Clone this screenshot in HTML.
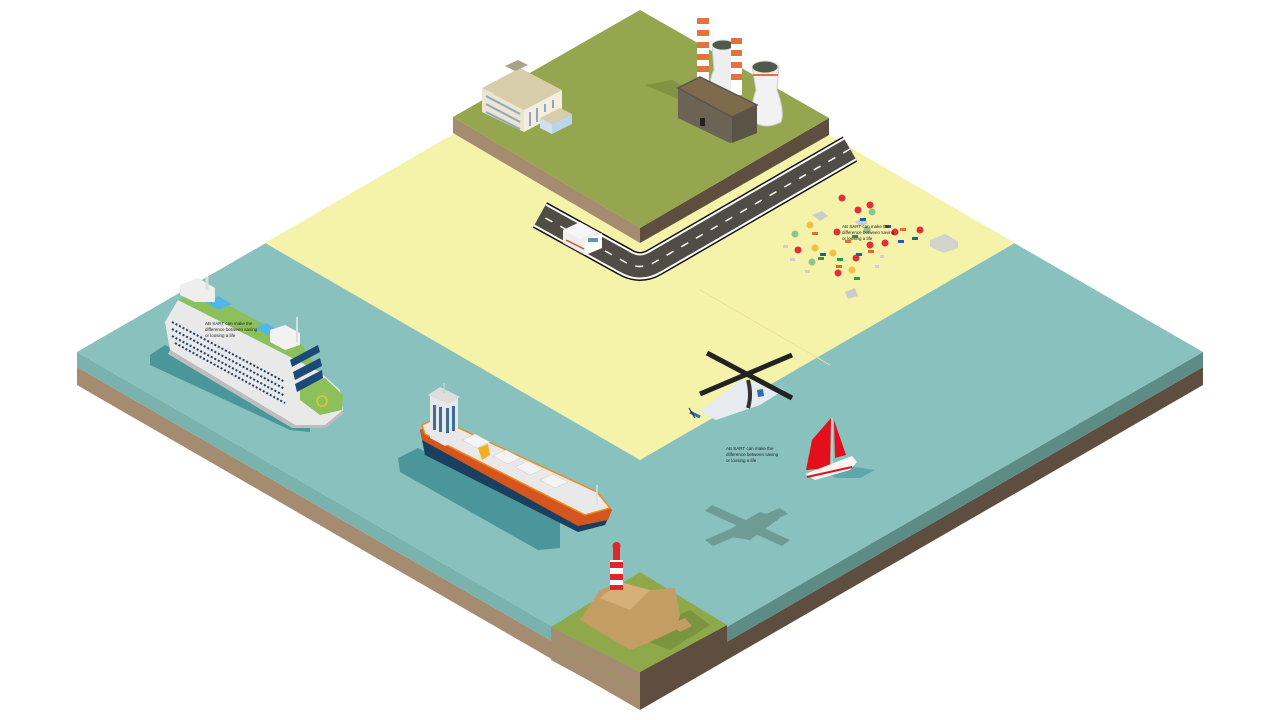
<!DOCTYPE html>
<html><head><meta charset="utf-8"><style>
html,body{margin:0;padding:0;background:#fff;width:1280px;height:720px;overflow:hidden}
svg{display:block}
text{font-family:"Liberation Sans",sans-serif;font-size:4.5px;fill:#222}
</style></head><body>
<svg width="1280" height="720" viewBox="0 0 1280 720" xmlns="http://www.w3.org/2000/svg">
<polygon points="77,367 640,692 640,710 77,385" fill="#a58b6f"/>
<polygon points="1203,367 640,692 640,710 1203,385" fill="#5e4e3f"/>
<polygon points="77,352 640,677 640,692 77,367" fill="#7ab3ae"/>
<polygon points="1203,352 640,677 640,692 1203,367" fill="#5d8c86"/>
<polygon points="77,352 640,27 1203,352 640,677" fill="#89c1bf"/>
<polygon points="265,243 640,26 1015,243 640,460" fill="#f5f2aa"/>
<line x1="700" y1="290" x2="830" y2="365" stroke="#e8e39c" stroke-width="1"/>

<polygon points="453,117 640,228 640,243 453,133" fill="#a58b6f"/>
<polygon points="829,118 640,228 640,243 829,135" fill="#5e4e3f"/>
<polygon points="640,10 829,118 640,228 453,117" fill="#95a64f"/>

<path d="M850,149 L655,262 Q640,271 625,262 L540,215" fill="none" stroke="#111" stroke-width="29" stroke-linejoin="round"/>
<path d="M850,149 L655,262 Q640,271 625,262 L540,215" fill="none" stroke="#fff" stroke-width="26" stroke-linejoin="round"/>
<path d="M850,149 L655,262 Q640,271 625,262 L540,215" fill="none" stroke="#524c46" stroke-width="22" stroke-linejoin="round"/>
<path d="M850,149 L655,262 Q640,271 625,262 L540,215" fill="none" stroke="#fff" stroke-width="1.5" stroke-dasharray="8,9"/>

<!-- ambulance -->
<polygon points="563,230 580,222 602,234 602,248 585,255 563,243" fill="#eee"/>
<polygon points="585,241 602,233 602,248 585,255" fill="#fff"/>
<polygon points="563,230 580,222 596,231 580,239" fill="#f6f6f6"/>
<rect x="588" y="238" width="10" height="4" fill="#5b98b5"/>
<line x1="566" y1="240" x2="584" y2="249" stroke="#e04a2a" stroke-width="1.5"/>

<!-- hospital -->
<polygon points="482,88 520,68 562,90 524,110" fill="#d8cdaa"/>
<polygon points="482,88 524,110 524,132 482,112" fill="#ece5cf"/>
<polygon points="524,110 562,90 562,112 524,132" fill="#f3eedd"/>
<polygon points="540,118 560,108 572,114 552,124" fill="#d8cdaa"/>
<polygon points="540,118 552,124 552,134 540,128" fill="#cfe0ee"/>
<polygon points="552,124 572,114 572,124 552,134" fill="#bcd4ea"/>
<polygon points="505,66 518,60 528,65 515,71" fill="#aaa38a"/>
<g stroke="#8fa7c4" stroke-width="2">
<line x1="486" y1="96" x2="520" y2="114"/><line x1="486" y1="104" x2="520" y2="122"/><line x1="486" y1="112" x2="520" y2="129"/>
<line x1="530" y1="112" x2="530" y2="126"/><line x1="537" y1="108" x2="537" y2="122"/><line x1="545" y1="104" x2="545" y2="112"/><line x1="553" y1="100" x2="553" y2="108"/>
</g>

<!-- power plant -->
<polygon points="645,85 680,100 700,95 672,80" fill="#7a8a3f" opacity="0.7"/>
<rect x="697" y="15" width="12" height="70" fill="#fff"/>
<g fill="#e8703a"><rect x="697" y="18" width="12" height="6"/><rect x="697" y="30" width="12" height="6"/><rect x="697" y="42" width="12" height="6"/><rect x="697" y="54" width="12" height="6"/><rect x="697" y="66" width="12" height="6"/></g>
<path d="M712,45 Q722,38 734,45 L732,70 Q738,90 735,95 L712,95 Q708,80 714,70 Z" fill="#eee" stroke="#ccc"/>
<ellipse cx="723" cy="45" rx="11" ry="5" fill="#4f5a4a" stroke="#ddd"/>
<rect x="731" y="35" width="11" height="60" fill="#fff"/>
<g fill="#e8703a"><rect x="731" y="38" width="11" height="6"/><rect x="731" y="50" width="11" height="6"/><rect x="731" y="62" width="11" height="6"/><rect x="731" y="74" width="11" height="6"/></g>
<path d="M752,66 Q765,58 779,66 L777,90 Q785,112 781,122 Q766,130 754,122 Q749,110 756,90 Z" fill="#f2f2f2" stroke="#ccc"/>
<ellipse cx="765" cy="67" rx="13" ry="6" fill="#4f5a4a" stroke="#ddd"/>
<line x1="753" y1="75" x2="778" y2="75" stroke="#e8703a" stroke-width="2"/>
<polygon points="678,88 700,77 757,105 757,133 730,143 678,118" fill="#6b6354"/>
<polygon points="678,88 700,77 757,105 732,117" fill="#7f6a4b" stroke="#555" stroke-width="1.5"/>
<polygon points="732,117 757,105 757,133 732,143" fill="#5a5447"/>
<rect x="700" y="118" width="5" height="8" fill="#222"/>

<!-- beach items -->
<g>
<polygon points="930,240 945,234 958,241 958,248 944,253 930,247" fill="#d4d2cc"/>
<polygon points="812,215 822,211 828,216 820,221" fill="#ccc"/>
<polygon points="845,292 855,288 858,296 848,299" fill="#ccc"/>
<polygon points="855,222 862,218 868,223 861,227" fill="#ccc"/>
</g>
<g>
<circle cx="842" cy="198" r="3.5" fill="#e0303a"/><circle cx="858" cy="210" r="3.5" fill="#e0303a"/><circle cx="870" cy="205" r="3.5" fill="#e0303a"/>
<circle cx="895" cy="232" r="3.5" fill="#e0303a"/><circle cx="920" cy="230" r="3.5" fill="#e0303a"/><circle cx="885" cy="243" r="3.5" fill="#e0303a"/>
<circle cx="837" cy="232" r="3.5" fill="#e0303a"/><circle cx="798" cy="250" r="3.5" fill="#e0303a"/><circle cx="838" cy="273" r="3.5" fill="#e0303a"/>
<circle cx="870" cy="245" r="3.5" fill="#e0303a"/><circle cx="856" cy="258" r="3.5" fill="#e0303a"/>
<circle cx="795" cy="234" r="3.5" fill="#8ec48e"/><circle cx="812" cy="262" r="3.5" fill="#8ec48e"/><circle cx="872" cy="212" r="3.5" fill="#8ec48e"/><circle cx="867" cy="230" r="3.5" fill="#8ec48e"/>
<circle cx="815" cy="248" r="3.5" fill="#f0c040"/><circle cx="833" cy="253" r="3.5" fill="#f0c040"/><circle cx="852" cy="270" r="3.5" fill="#f0c040"/><circle cx="810" cy="225" r="3.5" fill="#f0c040"/>
<g fill="#1f5fa8"><rect x="860" y="218" width="6" height="3"/><rect x="885" y="225" width="6" height="3"/><rect x="898" y="240" width="6" height="3"/><rect x="856" y="253" width="6" height="3"/><rect x="820" y="253" width="6" height="3"/><rect x="912" y="237" width="6" height="3"/></g>
<g fill="#2a9a4a"><rect x="818" y="257" width="6" height="3"/><rect x="837" y="258" width="6" height="3"/><rect x="852" y="235" width="6" height="3"/><rect x="854" y="277" width="6" height="3"/></g>
<g fill="#e86a2a"><rect x="812" y="232" width="6" height="3"/><rect x="845" y="240" width="6" height="3"/><rect x="868" y="250" width="6" height="3"/><rect x="900" y="228" width="6" height="3"/><rect x="836" y="265" width="6" height="3"/></g>
<g fill="#cfcfcf"><rect x="783" y="245" width="5" height="3"/><rect x="790" y="258" width="5" height="3"/><rect x="805" y="270" width="5" height="3"/><rect x="880" y="255" width="4" height="3"/><rect x="875" y="265" width="4" height="3"/></g>
</g>
<text x="842" y="228">AB SART can make the</text>
<text x="842" y="234">difference between saving</text>
<text x="842" y="240">or loosing a life</text>

<!-- cruise ship shadow -->
<polygon points="150,355 165,345 290,405 310,420 310,432 290,430 150,365" fill="#4b969a"/>
<!-- cruise ship -->
<polygon points="165,322 178,300 320,372 340,390 343,410 325,425 295,425 170,350" fill="#e9e9ea"/>
<polygon points="170,350 295,425 325,425 343,410 343,414 325,428 292,428 168,354" fill="#bdbdbd"/>
<polygon points="178,300 200,290 302,345 320,372" fill="#8cc05a"/>
<polygon points="205,302 218,296 232,304 219,310" fill="#4fb8e6"/>
<polygon points="255,328 266,323 278,330 267,335" fill="#4fb8e6"/>
<polygon points="300,385 325,378 343,395 342,410 320,415 300,400" fill="#8cc05a"/>
<circle cx="322" cy="401" r="5" fill="none" stroke="#f0c030" stroke-width="1.5"/>
<polygon points="180,285 198,278 215,288 215,302 195,302 180,295" fill="#eee"/>
<polygon points="270,330 285,325 300,333 300,345 285,350 270,342" fill="#f2f2f2"/>
<g stroke="#1b3f67" stroke-width="2" stroke-dasharray="2,2">
<line x1="172" y1="322" x2="285" y2="382"/><line x1="172" y1="329" x2="285" y2="389"/><line x1="172" y1="336" x2="285" y2="396"/><line x1="175" y1="343" x2="285" y2="403"/>
</g>
<g fill="#1b4a78"><polygon points="290,360 318,345 320,352 292,367"/><polygon points="293,372 320,358 322,366 295,380"/><polygon points="295,384 322,370 323,378 297,392"/></g>
<line x1="297" y1="317" x2="297" y2="342" stroke="#ddd" stroke-width="2"/>
<line x1="207" y1="277" x2="207" y2="290" stroke="#ddd" stroke-width="3"/>
<text x="205" y="325">AB SART can make the</text>
<text x="205" y="331">difference between saving</text>
<text x="205" y="337">or loosing a life</text>

<!-- tanker shadow -->
<polygon points="398,458 418,448 560,522 560,548 538,550 400,472" fill="#4b969a"/>
<!-- tanker -->
<polygon points="420,430 435,423 600,500 612,510 605,525 578,532 425,455" fill="#1b3f5e"/>
<polygon points="420,430 435,423 600,500 612,510 608,520 578,526 422,440" fill="#d4561e"/>
<polygon points="422,425 437,418 597,492 610,508 585,515 425,434" fill="#e9e9e9" stroke="#f28a20" stroke-width="1.5"/>
<polygon points="430,395 440,388 458,398 458,440 445,446 430,438" fill="#e8e8e8"/>
<g fill="#3a6d9a"><rect x="433" y="405" width="3" height="25"/><rect x="439" y="407" width="3" height="25"/><rect x="446" y="408" width="3" height="25"/><rect x="452" y="406" width="3" height="25"/></g>
<polygon points="428,395 440,387 460,397 448,404" fill="#ddd"/>
<line x1="444" y1="383" x2="444" y2="393" stroke="#ccc" stroke-width="1.5"/>
<g fill="#f4f4f4" stroke="#ccc" stroke-width="0.5">
<polygon points="462,440 475,434 490,442 477,448"/><polygon points="493,456 506,450 521,458 508,464"/><polygon points="515,467 528,461 543,469 530,475"/><polygon points="540,480 553,474 568,482 555,488"/>
</g>
<polygon points="478,448 488,444 490,455 482,460" fill="#f0b020"/>
<line x1="597" y1="485" x2="597" y2="505" stroke="#ddd" stroke-width="1.5"/>

<!-- helicopter shadow -->
<g fill="#6e9c95">
<polygon points="712,505 790,540 782,546 705,511"/>
<polygon points="705,540 780,508 788,514 713,546"/>
<polygon points="720,535 760,512 780,518 750,540"/>
</g>
<!-- helicopter -->
<polygon points="700,412 740,380 768,383 784,390 760,405 716,420" fill="#e5ebee"/>
<path d="M748,380 Q752,395 748,408" stroke="#333" stroke-width="4" fill="none"/>
<polygon points="757,390 763,389 764,396 758,397" fill="#2e6db0"/>
<line x1="690" y1="412" x2="700" y2="417" stroke="#2e6db0" stroke-width="3"/>
<line x1="689" y1="408" x2="695" y2="418" stroke="#222" stroke-width="1"/>
<line x1="707" y1="353" x2="792" y2="398" stroke="#222" stroke-width="5"/>
<line x1="700" y1="394" x2="792" y2="355" stroke="#222" stroke-width="5"/>

<!-- sailboat -->
<polygon points="825,470 840,465 875,470 860,478 835,478" fill="#5ea7aa"/>
<polygon points="806,470 812,440 831,418 830,468" fill="#e3101b"/>
<polygon points="834,420 846,455 835,458" fill="#e3101b"/>
<line x1="832" y1="418" x2="832" y2="470" stroke="#ccc" stroke-width="1.5"/>
<polygon points="805,474 852,456 857,462 850,470 815,480" fill="#f5f5f5"/>
<line x1="807" y1="477" x2="852" y2="467" stroke="#e3101b" stroke-width="2"/>
<text x="726" y="450">AB SART can make the</text>
<text x="726" y="456">difference between saving</text>
<text x="726" y="462">or loosing a life</text>

<!-- island -->
<polygon points="551,627 640,672 640,708 551,660" fill="#a58b6f"/>
<polygon points="727,625 640,672 640,708 727,655" fill="#5e4e3f"/>
<line x1="551" y1="643" x2="640" y2="690" stroke="#8e9a5a" stroke-width="1"/>
<polygon points="640,572 727,625 640,672 551,627" fill="#8fa84a"/>
<polygon points="630,635 690,610 710,625 670,650" fill="#7a9440"/>
<polygon points="580,620 600,590 620,582 650,590 675,588 680,615 676,630 650,642 630,650" fill="#c49d64"/>
<polygon points="620,582 650,590 630,610 600,598" fill="#d6b07a"/>
<polygon points="670,625 685,618 692,626 680,632" fill="#c49d64"/>
<rect x="610" y="560" width="13" height="30" fill="#fff"/>
<g fill="#e0262a"><rect x="610" y="562" width="13" height="6"/><rect x="610" y="574" width="13" height="6"/><rect x="610" y="585" width="13" height="5"/></g>
<rect x="613" y="546" width="7" height="14" fill="#e0262a"/>
<circle cx="616.5" cy="546" r="4" fill="#e0262a"/>
</svg>
</body></html>
